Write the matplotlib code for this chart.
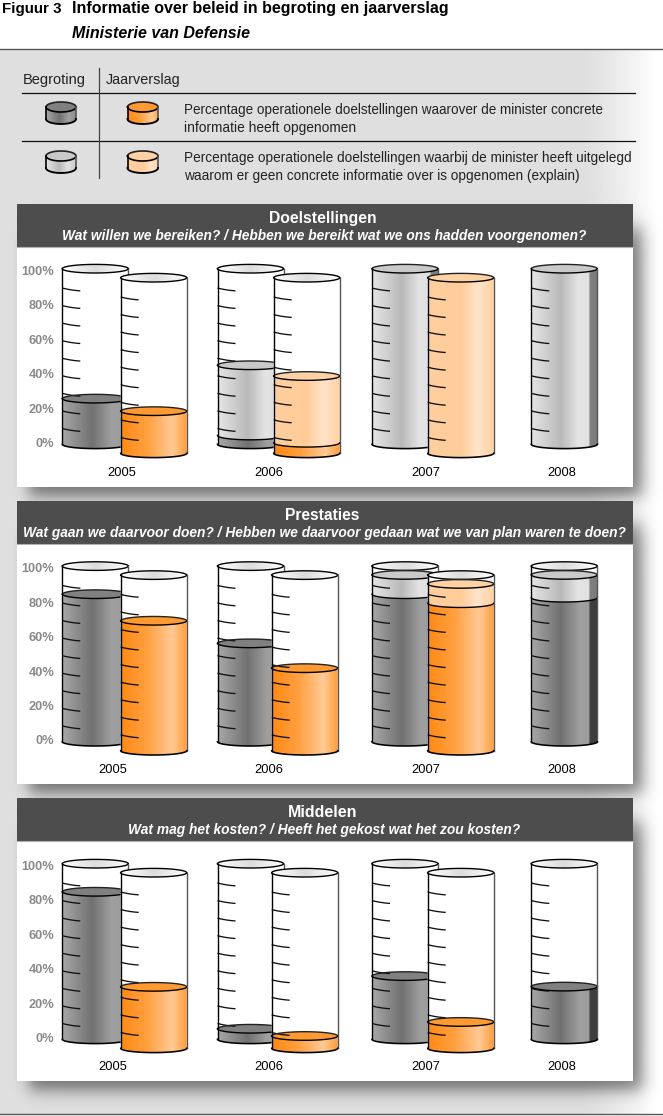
import numpy as np
import matplotlib
matplotlib.use("Agg")
import matplotlib.pyplot as plt
from matplotlib.path import Path
from matplotlib.patches import PathPatch, Ellipse, Rectangle
from matplotlib.colors import LinearSegmentedColormap

plt.rcParams['font.family'] = ['Liberation Sans', 'DejaVu Sans']

# ---------- data ----------
YEARS = ['2005', '2006', '2007', '2008']
PERCENT_TICKS = [0, 20, 40, 60, 80, 100]
SCALE_MARKS = [10, 20, 30, 40, 50, 60, 70, 80, 90]

PANEL_TITLES = ['Doelstellingen', 'Prestaties', 'Middelen']
PANEL_SUBTITLES = [
    'Wat willen we bereiken? / Hebben we bereikt wat we ons hadden voorgenomen?',
    'Wat gaan we daarvoor doen? / Hebben we daarvoor gedaan wat we van plan waren te doen?',
    'Wat mag het kosten? / Heeft het gekost wat het zou kosten?',
]
# concrete information / explain share, per year (Jaarverslag has no 2008)
doel_begr_concrete = [26, 5, 0, 0]
doel_begr_explain = [0, 40, 100, 100]
doel_jaar_concrete = [24, 6, 0]
doel_jaar_explain = [0, 38, 100]

prest_begr_concrete = [84, 56, 84, 82]
prest_begr_explain = [0, 0, 11, 13]
prest_jaar_concrete = [74, 47, 84]
prest_jaar_explain = [0, 0, 11]

midd_begr_concrete = [84, 6, 36, 30]
midd_begr_explain = [0, 0, 0, 0]
midd_jaar_concrete = [35, 7, 15]
midd_jaar_explain = [0, 0, 0]

PANEL_DATA = [
    (doel_begr_concrete, doel_begr_explain, doel_jaar_concrete, doel_jaar_explain),
    (prest_begr_concrete, prest_begr_explain, prest_jaar_concrete, prest_jaar_explain),
    (midd_begr_concrete, midd_begr_explain, midd_jaar_concrete, midd_jaar_explain),
]

# ---------- layout (pixels) ----------
W, H = 663, 1116
PX_X0, PX_X1 = 17, 633
HEAD_TOP = [204, 501, 798]
HEAD_BOT = [247, 544, 841]
PANEL_BOT = [487, 784, 1081]
BASE_PX = [444.3, 741.7, 1039.3]
TITLE_EXT = [(269, 377), (285, 360), (288, 358)]
SUB_EXT = [(62, 586), (23, 626), (128, 520)]
YEAR_X = [[122, 269, 426, 562], [113, 269, 426, 562], [113, 269, 426, 562]]
BEGR_X = [62.3, 217.5, 372, 531.3]
JAAR_X = [[120.7, 273.7, 427.7], [120.7, 271.7, 427.7], [120.7, 271.7, 427.7]]
CYL_W = 66
PX_PER_PCT = 1.756
JAAR_DROP = 9.0 / PX_PER_PCT
ELL = 4.3 / PX_PER_PCT

DARK = [(0, '#a8a8a8'), (.45, '#717171'), (.75, '#a0a0a0'), (.885, '#9c9c9c'), (.89, '#404040'), (1, '#3c3c3c')]
LIGHT = [(0, '#e6e6e6'), (.45, '#b9b9b9'), (.72, '#e4e4e4'), (.885, '#e0e0e0'), (.89, '#808080'), (1, '#7c7c7c')]
ORANGE = [(0, '#ff8a14'), (.4, '#ffa040'), (.78, '#ffca96'), (1, '#ff9d3a')]
LORANGE = [(0, '#ffcf9f'), (.5, '#ffcc99'), (.75, '#ffe4c9'), (1, '#ffd0a2')]
RIM = [(0, '#ffffff'), (.5, '#dcdcdc'), (1, '#ffffff')]
TOPS = {'dark': '#808080', 'light': '#c9c9c9', 'orange': '#ff9a33', 'lorange': '#ffd2a6'}

fig = plt.figure(figsize=(W / 100, H / 100), dpi=100, facecolor='white')
renderer = fig.canvas.get_renderer()


def grad(stops):
    cm = LinearSegmentedColormap.from_list('g', stops)
    return cm(np.linspace(0, 1, 256))[None, :, :3]


def fit_text(ax, x0, x1, yc, s, **kw):
    """Left-aligned text fitted to a pixel width; yc is the middle of the capitals (y up)."""
    t = ax.text(x0, yc, s, ha='left', va='baseline', fontsize=10, **kw)
    w = t.get_window_extent(renderer).width
    size = 10 * (x1 - x0) / w
    t.set_fontsize(size)
    t.set_y(yc - 0.36 * size / 0.72)
    return t


def arc(x0, x1, y, eh, front=True):
    a = np.linspace(0, np.pi, 40)
    xs = (x0 + x1) / 2 - (x1 - x0) / 2 * np.cos(a)
    ys = y - eh * np.sin(a) if front else y + eh * np.sin(a)
    return xs, ys


def body_path(x0, x1, lo, hi, eh):
    xf, yf = arc(x0, x1, lo, eh, True)
    xb, yb = arc(x0, x1, hi, eh, False)
    pts = np.r_[np.c_[xf, yf], np.c_[xb[::-1], yb[::-1]], [[xf[0], yf[0]]]]
    return Path(pts, closed=True)


def gradient_in(ax, clip, x0, x1, lo, hi, stops, z):
    patch = PathPatch(clip, fc='none', ec='none', transform=ax.transData, zorder=z)
    ax.add_patch(patch)
    im = ax.imshow(grad(stops), extent=(x0, x1, lo, hi), aspect='auto',
                   interpolation='bilinear', zorder=z)
    im.set_clip_path(patch)


def cylinder(ax, x0, x1, base, top, eh, marks, levels, z, unit=1.0, lw=1.0, tick_w=18, tick_drop=1.0):
    """levels: list of (height, stops, topcolor), stacked from the base."""
    ax.add_patch(PathPatch(body_path(x0, x1, base, top, eh), fc='white', ec='none', zorder=z))
    cur = base
    bounds = []
    surface = None
    for h, stops, topc in levels:
        if h <= 0:
            continue
        nxt = cur + h * unit
        gradient_in(ax, body_path(x0, x1, cur, nxt, eh), x0, x1, cur - eh, nxt + eh, stops, z + .1)
        bounds.append(nxt)
        surface = (nxt, topc)
        cur = nxt
    cx, w = (x0 + x1) / 2, x1 - x0
    if surface is None or surface[0] < top - .01:
        xf, yf = arc(x0, x1, top, eh, True)
        xb, yb = arc(x0, x1, top, eh, False)
        e = Path(np.r_[np.c_[xf, yf], np.c_[xb[::-1], yb[::-1]]], closed=False)
        gradient_in(ax, e, x0, x1, top - eh, top + eh, RIM, z + .3)
        ax.plot(xf, yf, color='k', lw=lw, zorder=z + .6)
        ax.plot(xb, yb, color='k', lw=lw, zorder=z + .6)
    if surface is not None:
        ax.add_patch(Ellipse((cx, surface[0]), w, 2 * eh, fc=surface[1], ec='none', zorder=z + .2))
        ax.plot(*arc(x0, x1, surface[0], eh, False), color='#222222', lw=lw, zorder=z + .6)
    for b in bounds:
        ax.plot(*arc(x0, x1, b, eh, True), color='k', lw=lw, zorder=z + .6)
    for m in marks:
        t = np.linspace(0, 1, 12)
        ax.plot(x0 + tick_w * t, base + (m - 1) * unit - tick_drop * (1 - (1 - t) ** 2) - 0.6 * t,
                color='#111111', lw=0.95, zorder=z + .5, solid_capstyle='butt')
    ax.plot([x0, x0], [base, top], color='k', lw=lw, zorder=z + .7)
    ax.plot([x1, x1], [base, top], color='#555555', lw=lw, zorder=z + .7)
    ax.plot(*arc(x0, x1, base, eh, True), color='k', lw=lw + .15, zorder=z + .7)


# ---------- background axes in figure pixels (y upward) ----------
bg = fig.add_axes([0, 0, 1, 1], zorder=0)
bg.set_xlim(0, W)
bg.set_ylim(0, H)
bg.set_axis_off()
bg.set_autoscale_on(False)


def Y(y):
    return H - y


xx, yy = np.meshgrid(np.arange(W) + .5, np.arange(H) + .5)
base_grey = 0.875 + 0.125 * np.clip((xx - 585) / 72, 0, 1) ** 1.2
base_grey[(yy < 50) | (yy > 1114)] = 1.0


def S(v, s):
    return 1 / (1 + np.exp(-np.clip(v / s, -30, 30)))


shade = np.ones_like(base_grey)
for top, bot in zip(HEAD_TOP, PANEL_BOT):
    a = S(xx - (PX_X0 + 12), 4.5) * S((PX_X1 + 9) - xx, 4.8) * S(yy - (top + 24), 6) * S((bot + 9) - yy, 4.8)
    shade *= 1 - 0.50 * a
img = np.clip(base_grey * shade, 0, 1)
bg.imshow(img, extent=(0, W, 0, H), origin='upper', cmap='gray', vmin=0, vmax=1,
          aspect='auto', interpolation='nearest', zorder=0)

bg.plot([0, W], [Y(49), Y(49)], color='#555555', lw=1.0, zorder=1)
bg.plot([0, W], [Y(1114), Y(1114)], color='#555555', lw=1.0, zorder=1)

# heading
fit_text(bg, 2, 62, Y(7.5), 'Figuur 3', color='k', fontweight='bold')
fit_text(bg, 72, 447, Y(7.5), 'Informatie over beleid in begroting en jaarverslag', color='k', fontweight='bold')
fit_text(bg, 72, 250, Y(32.5), 'Ministerie van Defensie', color='k', fontweight='bold', fontstyle='italic')

# legend
LEG_TXT = '#222222'
fit_text(bg, 23, 86, Y(79), 'Begroting', color=LEG_TXT)
fit_text(bg, 106, 181, Y(79), 'Jaarverslag', color=LEG_TXT)
fit_text(bg, 184.5, 605, Y(109), 'Percentage operationele doelstellingen waarover de minister concrete', color=LEG_TXT)
fit_text(bg, 184.5, 357, Y(127), 'informatie heeft opgenomen', color=LEG_TXT)
fit_text(bg, 184.5, 632, Y(157.5), 'Percentage operationele doelstellingen waarbij de minister heeft uitgelegd', color=LEG_TXT)
fit_text(bg, 184.5, 579, Y(175.5), 'waarom er geen concrete informatie over is opgenomen (explain)', color=LEG_TXT)
bg.plot([22, 635], [Y(93.3), Y(93.3)], color='#111111', lw=0.9, zorder=1)
bg.plot([22, 635], [Y(141), Y(141)], color='#111111', lw=0.9, zorder=1)
bg.plot([98.7, 98.7], [Y(68), Y(178)], color='#444444', lw=0.9, zorder=1)

for (x0, x1, ytop, st, tc, z) in [(46, 76, 107, DARK[:3] + [(1, '#8c8c8c')], TOPS['dark'], 2),
                                  (127.5, 158, 107, ORANGE, TOPS['orange'], 3),
                                  (46, 76, 156, LIGHT[:3] + [(1, '#c8c8c8')], TOPS['light'], 4),
                                  (127.5, 158, 156, LORANGE, TOPS['lorange'], 5)]:
    cylinder(bg, x0, x1, Y(ytop + 12), Y(ytop), 5, [], [(12, st, tc)], z, lw=1.2)

# panels
for i in range(3):
    bg.add_patch(Rectangle((PX_X0, Y(PANEL_BOT[i])), PX_X1 - PX_X0, PANEL_BOT[i] - HEAD_BOT[i],
                           fc='white', ec='none', zorder=2))
    bg.add_patch(Rectangle((PX_X0, Y(HEAD_BOT[i])), PX_X1 - PX_X0, HEAD_BOT[i] - HEAD_TOP[i],
                           fc='#4d4d4d', ec='none', zorder=2))
    bg.plot([PX_X0, PX_X1], [Y(HEAD_BOT[i])] * 2, color='#b0b0b0', lw=0.8, zorder=3)
    fit_text(bg, TITLE_EXT[i][0], TITLE_EXT[i][1], Y(HEAD_TOP[i] + 13.5), PANEL_TITLES[i],
             color='white', fontweight='bold', zorder=4)
    fit_text(bg, SUB_EXT[i][0], SUB_EXT[i][1], Y(HEAD_TOP[i] + 31), PANEL_SUBTITLES[i],
             color='white', fontweight='bold', fontstyle='italic', zorder=4)

# ---------- chart axes ----------
AX_LEFT = 56
for i in range(3):
    ax_bottom_px = PANEL_BOT[i] - 22
    ax = fig.add_axes([AX_LEFT / W, 1 - ax_bottom_px / H, (PX_X1 - AX_LEFT) / W,
                       (ax_bottom_px - HEAD_BOT[i]) / H], zorder=5)
    ax.patch.set_alpha(0)
    for sp in ax.spines.values():
        sp.set_visible(False)
    ax.set_autoscale_on(False)
    ax.set_xlim(AX_LEFT, PX_X1)
    ax.set_ylim((BASE_PX[i] - ax_bottom_px) / PX_PER_PCT, (BASE_PX[i] - HEAD_BOT[i]) / PX_PER_PCT)
    ax.set_yticks([1 + 0.98 * v for v in PERCENT_TICKS])
    ax.set_yticklabels([f'{v}%' for v in PERCENT_TICKS], fontsize=9.2, fontweight='bold', color='#8a8a8a')
    ax.set_xticks(YEAR_X[i])
    ax.set_xticklabels(YEARS, fontsize=9.3, color='k')
    ax.tick_params(axis='both', length=0)
    ax.tick_params(axis='y', pad=1.3)
    ax.tick_params(axis='x', pad=1.5)

    bc, be, jc, je = PANEL_DATA[i]
    z = 10
    for k in range(len(YEARS)):
        cylinder(ax, BEGR_X[k], BEGR_X[k] + CYL_W, 0, 100, ELL, SCALE_MARKS,
                 [(bc[k], DARK, TOPS['dark']), (be[k], LIGHT, TOPS['light'])], z)
        z += 2
        if k < len(jc):
            x0 = JAAR_X[i][k]
            cylinder(ax, x0, x0 + CYL_W, -JAAR_DROP, 100 - JAAR_DROP, ELL, SCALE_MARKS,
                     [(jc[k], ORANGE, TOPS['orange']), (je[k], LORANGE, TOPS['lorange'])], z)
            z += 2

fig.savefig('out.png', dpi=100, facecolor='white')
